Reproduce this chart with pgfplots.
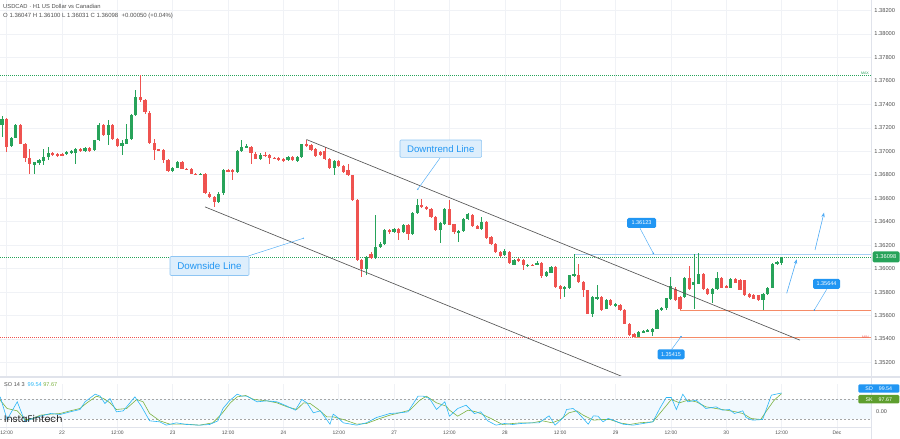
\documentclass[border=0pt]{standalone}
\usepackage{fontspec}
\setmainfont{Liberation Sans}
\newfontfamily\logofont{Poppins}
\usepackage{pgfplots}
\usepackage{pgfplotstable}
\pgfplotsset{compat=1.18}
\usetikzlibrary{arrows.meta}

\definecolor{upc}{HTML}{27A35A}
\definecolor{dnc}{HTML}{EF5350}
\definecolor{gridc}{HTML}{F0F2F6}
\definecolor{axc}{HTML}{E0E3EB}
\definecolor{lblue}{HTML}{2196F3}
\definecolor{boxfill}{HTML}{DDEEFC}
\definecolor{boxdraw}{HTML}{8EC5F3}
\definecolor{hline}{HTML}{A6D0F5}
\definecolor{orangec}{HTML}{F58B67}
\definecolor{sdc}{HTML}{29B6F6}
\definecolor{skc}{HTML}{7CB342}
\definecolor{skbox}{HTML}{5E9E2E}
\definecolor{txtc}{HTML}{4E4E4E}
\definecolor{chan}{HTML}{555555}

\pgfplotstableread{
x O H L C
-1 1.37222 1.37298 1.37122 1.37279
1 1.37043 1.37125 1.37035 1.37117
2 1.37117 1.37236 1.37110 1.37228
6 1.36884 1.36912 1.36804 1.36907
7 1.36901 1.36935 1.36884 1.36924
8 1.36918 1.37023 1.36881 1.36952
9 1.36952 1.37037 1.36924 1.36986
13 1.36975 1.37005 1.36969 1.36998
14 1.36989 1.37009 1.36980 1.37000
15 1.36986 1.37030 1.36895 1.37020
17 1.37003 1.37040 1.36995 1.37032
19 1.37009 1.37100 1.37000 1.37094
20 1.37094 1.37241 1.37088 1.37228
22 1.37137 1.37270 1.37051 1.37228
25 1.37043 1.37094 1.36969 1.37071
26 1.37066 1.37236 1.37060 1.37108
27 1.37108 1.37315 1.37100 1.37307
28 1.37307 1.37520 1.37300 1.37463
36 1.36832 1.36870 1.36825 1.36861
37 1.36861 1.36920 1.36855 1.36912
42 1.36802 1.36818 1.36796 1.36810
46 1.36568 1.36650 1.36560 1.36640
47 1.36640 1.36850 1.36630 1.36838
50 1.36824 1.37010 1.36815 1.37000
51 1.37000 1.37100 1.36995 1.37037
52 1.37032 1.37060 1.37025 1.37043
55 1.36938 1.36985 1.36930 1.36972
61 1.36924 1.36960 1.36915 1.36952
63 1.36918 1.36960 1.36910 1.36952
64 1.36952 1.37066 1.36945 1.37060
71 1.36861 1.36925 1.36796 1.36918
78 1.36001 1.36110 1.35950 1.36100
80 1.36095 1.36455 1.36085 1.36185
81 1.36185 1.36225 1.36175 1.36214
82 1.36214 1.36340 1.36205 1.36327
84 1.36313 1.36350 1.36305 1.36342
86 1.36313 1.36380 1.36305 1.36370
88 1.36299 1.36485 1.36290 1.36478
89 1.36478 1.36591 1.36470 1.36540
94 1.36327 1.36398 1.36222 1.36389
95 1.36384 1.36515 1.36376 1.36506
98 1.36308 1.36330 1.36227 1.36319
99 1.36319 1.36435 1.36310 1.36427
100 1.36418 1.36470 1.36410 1.36461
103 1.36336 1.36440 1.36330 1.36398
108 1.36114 1.36171 1.36108 1.36148
110 1.36035 1.36080 1.36029 1.36072
113 1.36023 1.36043 1.36014 1.36035
115 1.36035 1.36063 1.36029 1.36052
117 1.35938 1.35980 1.35930 1.35972
118 1.35967 1.36023 1.35960 1.36014
121 1.35830 1.35853 1.35759 1.35844
122 1.35836 1.35950 1.35830 1.35944
123 1.35938 1.36123 1.35930 1.35950
127 1.35617 1.35765 1.35588 1.35759
128 1.35745 1.35859 1.35738 1.35759
130 1.35660 1.35745 1.35652 1.35737
132 1.35680 1.35705 1.35672 1.35697
137 1.35418 1.35468 1.35415 1.35461
138 1.35461 1.35478 1.35455 1.35469
139 1.35469 1.35485 1.35462 1.35475
140 1.35461 1.35498 1.35424 1.35490
141 1.35490 1.35652 1.35483 1.35646
142 1.35646 1.35678 1.35640 1.35669
143 1.35660 1.35752 1.35652 1.35745
144 1.35745 1.35929 1.35738 1.35850
147 1.35759 1.35930 1.35752 1.35924
149 1.35859 1.36129 1.35660 1.35887
150 1.35871 1.36129 1.35865 1.35952
153 1.35782 1.35838 1.35708 1.35830
154 1.35830 1.35972 1.35822 1.35924
157 1.35839 1.35918 1.35832 1.35910
164 1.35731 1.35795 1.35646 1.35788
165 1.35782 1.35846 1.35775 1.35839
166 1.35839 1.36050 1.35832 1.36043
167 1.36043 1.36065 1.36035 1.36057
168 1.36047 1.36100 1.36031 1.36098
}\upT

\pgfplotstableread{
x O H L C
0 1.37279 1.37285 1.36994 1.37037
3 1.37228 1.37236 1.37060 1.37066
4 1.37066 1.37071 1.36909 1.36947
5 1.36947 1.37023 1.36804 1.36889
10 1.36986 1.36994 1.36964 1.36975
11 1.36975 1.36986 1.36952 1.36964
12 1.36975 1.36986 1.36960 1.36969
16 1.37020 1.37030 1.36998 1.37009
18 1.37032 1.37040 1.36995 1.37003
21 1.37228 1.37236 1.37130 1.37137
23 1.37228 1.37236 1.37100 1.37108
24 1.37108 1.37117 1.37035 1.37043
29 1.37463 1.37648 1.37420 1.37435
30 1.37435 1.37445 1.37320 1.37330
31 1.37330 1.37340 1.37060 1.37071
32 1.37071 1.37108 1.36924 1.37015
33 1.37015 1.37023 1.37000 1.37009
34 1.37015 1.37023 1.36900 1.36924
35 1.36924 1.36935 1.36825 1.36832
38 1.36912 1.36920 1.36845 1.36853
39 1.36853 1.36861 1.36838 1.36844
40 1.36853 1.36861 1.36804 1.36810
41 1.36810 1.36818 1.36798 1.36804
43 1.36810 1.36818 1.36635 1.36640
44 1.36640 1.36650 1.36600 1.36611
45 1.36611 1.36620 1.36526 1.36568
48 1.36838 1.36850 1.36820 1.36830
49 1.36838 1.36850 1.36753 1.36824
53 1.37037 1.37043 1.36895 1.36981
54 1.36981 1.36990 1.36930 1.36938
56 1.36970 1.36990 1.36955 1.36962
57 1.36966 1.36975 1.36895 1.36947
58 1.36945 1.36952 1.36935 1.36943
59 1.36943 1.36952 1.36920 1.36930
60 1.36938 1.36945 1.36910 1.36918
62 1.36952 1.36960 1.36918 1.36924
65 1.37066 1.37100 1.37035 1.37043
66 1.37051 1.37060 1.37005 1.37015
67 1.37023 1.37030 1.36950 1.36958
68 1.36994 1.37003 1.36958 1.36966
69 1.37003 1.37037 1.36930 1.36938
70 1.36938 1.36945 1.36850 1.36858
72 1.36918 1.36925 1.36865 1.36872
73 1.36872 1.36880 1.36815 1.36824
74 1.36838 1.36895 1.36790 1.36796
75 1.36796 1.36800 1.36575 1.36583
76 1.36583 1.36590 1.36065 1.36072
77 1.36072 1.36080 1.35930 1.36001
79 1.36129 1.36140 1.36085 1.36095
83 1.36327 1.36340 1.36300 1.36313
85 1.36342 1.36350 1.36242 1.36308
87 1.36370 1.36380 1.36242 1.36299
90 1.36540 1.36597 1.36518 1.36526
91 1.36526 1.36535 1.36498 1.36506
92 1.36512 1.36520 1.36432 1.36440
93 1.36440 1.36448 1.36319 1.36327
96 1.36506 1.36583 1.36368 1.36376
97 1.36376 1.36384 1.36299 1.36308
101 1.36461 1.36470 1.36355 1.36361
102 1.36361 1.36370 1.36335 1.36342
104 1.36398 1.36405 1.36255 1.36262
105 1.36270 1.36278 1.36205 1.36214
106 1.36214 1.36222 1.36135 1.36142
107 1.36142 1.36150 1.36100 1.36108
109 1.36142 1.36150 1.36043 1.36050
111 1.36080 1.36090 1.36055 1.36063
112 1.36072 1.36080 1.35986 1.36029
114 1.36035 1.36043 1.36020 1.36029
116 1.36052 1.36060 1.35916 1.35938
119 1.36014 1.36023 1.35836 1.35844
120 1.35853 1.35859 1.35745 1.35830
124 1.35950 1.36043 1.35880 1.35887
125 1.35887 1.35895 1.35759 1.35816
126 1.35816 1.35822 1.35610 1.35617
129 1.35754 1.35765 1.35640 1.35646
131 1.35737 1.35745 1.35680 1.35688
133 1.35688 1.35697 1.35640 1.35646
134 1.35646 1.35652 1.35525 1.35532
135 1.35532 1.35540 1.35425 1.35433
136 1.35447 1.35455 1.35415 1.35418
145 1.35830 1.35840 1.35725 1.35731
146 1.35759 1.35765 1.35644 1.35660
148 1.35924 1.36020 1.35822 1.35830
151 1.35952 1.35960 1.35822 1.35830
152 1.35830 1.35838 1.35775 1.35782
155 1.35924 1.35932 1.35832 1.35839
156 1.35850 1.35858 1.35832 1.35839
158 1.35910 1.35918 1.35875 1.35880
159 1.35905 1.35912 1.35815 1.35820
160 1.35901 1.35908 1.35765 1.35773
161 1.35782 1.35790 1.35750 1.35759
162 1.35773 1.35780 1.35738 1.35745
163 1.35773 1.35780 1.35725 1.35731
}\dnT

\pgfplotsset{
  wick/.style={only marks, mark=*, mark size=0pt, mark options={draw=none, fill=none}, forget plot,
    error bars/.cd, y dir=both, y explicit, error mark=none,
    error bar style={draw=#1, line width=0.75pt}},
  body/.style={only marks, mark=*, mark size=0pt, mark options={draw=none, fill=none}, forget plot,
    error bars/.cd, y dir=both, y explicit, error mark=none,
    error bar style={draw=#1, line width=3.2pt}},
}

\begin{document}
\begin{tikzpicture}[x=1pt,y=1pt]
\useasboundingbox (0,0) rectangle (900,439);

% ---------- price panel ----------
\begin{axis}[
  at={(0,53.5)}, anchor=south west, scale only axis,
  width=871pt, height=376pt,
  xmin=-1.44, xmax=187.4, ymin=1.35083, ymax=1.38287,
  axis line style={draw=none},
  major tick length=0pt,
  xtick={0,12,...,180}, xticklabels={},
  ytick={1.352,1.354,1.356,1.358,1.360,1.362,1.364,1.366,1.368,1.370,1.372,1.374,1.376,1.378,1.380,1.382},
  yticklabel pos=right,
  grid=major, major grid style={gridc, line width=0.5pt},
  yticklabel style={anchor=west, inner sep=0pt, xshift=3.2pt, text=txtc,
    font=\fontsize{5.7}{6}\selectfont,
    /pgf/number format/.cd, fixed, fixed zerofill, precision=5, 1000 sep={}, assume math mode=true},
  clip=true,
]
% reference horizontal lines
\addplot[upc, line width=0.5pt, dash pattern=on 0.8pt off 1.2pt] coordinates {(-1.44,1.37648) (187.4,1.37648)};
\addplot[dnc, line width=0.5pt, dash pattern=on 0.8pt off 1.2pt] coordinates {(-1.44,1.35413) (187.4,1.35413)};
\addplot[upc, line width=0.6pt, dash pattern=on 0.8pt off 1.2pt] coordinates {(-1.44,1.36098) (187.4,1.36098)};
\addplot[hline, line width=1.3pt] coordinates {(123,1.36123) (187.4,1.36123)};
\addplot[orangec, line width=0.7pt] coordinates {(146,1.35644) (187.4,1.35644)};
\addplot[orangec, line width=0.7pt] coordinates {(136,1.35415) (187.4,1.35415)};
% candles
\addplot[wick=upc] table[x=x, y expr={(\thisrow{H}+\thisrow{L})/2}, y error expr={(\thisrow{H}-\thisrow{L})/2}] {\upT};
\addplot[wick=dnc] table[x=x, y expr={(\thisrow{H}+\thisrow{L})/2}, y error expr={(\thisrow{H}-\thisrow{L})/2}] {\dnT};
\addplot[body=upc] table[x=x, y expr={(\thisrow{O}+\thisrow{C})/2}, y error expr={max(abs(\thisrow{C}-\thisrow{O})/2,0.00003)}] {\upT};
\addplot[body=dnc] table[x=x, y expr={(\thisrow{O}+\thisrow{C})/2}, y error expr={max(abs(\thisrow{C}-\thisrow{O})/2,0.00003)}] {\dnT};
% channel lines
\addplot[chan, line width=0.65pt] coordinates {(65.0,1.37100) (172.0,1.35390)};
\addplot[chan, line width=0.65pt] coordinates {(43.0,1.36526) (133.29,1.35083)};
\end{axis}

% ---------- stochastic panel ----------
\begin{axis}[
  at={(0,20.5)}, anchor=south west, scale only axis,
  width=871pt, height=48pt,
  xmin=-1.44, xmax=187.4, ymin=-18, ymax=126,
  axis line style={draw=none},
  major tick length=0pt,
  xtick={0,12,...,180}, xticklabels={},
  ytick=\empty,
  xmajorgrids, major grid style={gridc, line width=0.5pt},
  clip=true,
]
\fill[lblue!6] (axis cs:-1.44,20) rectangle (axis cs:187.4,80);
\addplot[gray!70, line width=0.5pt, dash pattern=on 2pt off 2pt] coordinates {(-1.44,80) (187.4,80)};
\addplot[gray!70, line width=0.5pt, dash pattern=on 2pt off 2pt] coordinates {(-1.44,20) (187.4,20)};
\addplot[skc, line width=0.6pt] coordinates {
(-1.4,78) (0.1,53) (2.3,46) (4.0,20) (5.1,20) (7.3,33) (9.5,36) (11.6,38) (13.8,46) (15.9,53)
(17.4,70) (19.5,90) (21.0,83) (22.4,70) (23.8,50) (26.0,53) (28.2,80) (29.6,73) (31.0,38) (33.2,16)
(35.4,6) (39.0,6) (41.8,3) (44.7,10) (46.7,38) (48.5,70) (50.0,88) (51.8,92) (53.6,80) (56.4,76)
(58.6,70) (60.8,58) (62.9,50) (64.4,70) (65.8,68) (67.6,50) (69.4,28) (70.8,28) (73.0,20) (75.9,6)
(78.0,8) (80.9,23) (83.1,33) (85.2,40) (87.4,48) (89.6,78) (91.0,90) (93.2,70) (95.3,60) (96.0,48)
(97.8,30) (100.0,48) (101.8,43) (103.2,35) (105.0,23) (107.5,5) (109.7,8) (111.5,10) (114.0,10) (116.2,16)
(118.3,10) (120.1,20) (121.9,40) (123.6,46) (125.0,33) (127.2,18) (129.3,20) (130.8,20) (132.9,10) (135.1,5)
(137.2,10) (140.1,13) (141.9,43) (144.1,80) (145.9,70) (147.7,78) (149.5,73) (151.6,58) (153.8,53) (156.0,48)
(158.1,43) (159.6,38) (161.4,23) (163.5,20) (164.6,43) (166.4,78) (168.0,97.67)};
\addplot[sdc, line width=0.6pt] coordinates {
(-1.4,88) (0.1,20) (2.3,73) (4.0,13) (5.1,20) (7.3,30) (9.5,38) (11.6,35) (13.8,43) (15.9,50)
(17.0,73) (19.2,96) (20.3,90) (21.3,68) (22.4,83) (23.8,43) (25.3,46) (27.8,88) (29.2,60) (31.0,16)
(33.2,13) (34.6,3) (36.8,10) (39.0,5) (41.8,3) (44.0,5) (45.8,16) (46.9,53) (48.3,76) (50.0,96)
(51.0,90) (52.1,90) (54.3,73) (56.4,76) (58.6,73) (60.8,60) (62.6,48) (64.0,80) (65.1,70) (66.5,40)
(68.0,46) (70.1,6) (70.8,36) (71.6,28) (73.0,10) (75.9,3) (78.0,10) (80.2,26) (83.1,38) (85.2,40)
(87.0,43) (89.2,90) (90.3,90) (91.7,83) (93.2,50) (95.0,73) (96.0,30) (97.8,53) (99.6,63) (101.4,38)
(102.8,43) (104.3,16) (106.1,3) (107.9,8) (109.7,5) (111.5,8) (114.0,10) (115.4,10) (117.6,31) (118.9,3)
(120.7,26) (121.4,50) (122.8,53) (123.9,40) (126.1,6) (127.2,31) (128.2,30) (129.3,13) (130.4,23) (131.5,18)
(133.6,6) (135.8,3) (138.0,8) (140.1,13) (141.6,53) (143.0,86) (144.1,86) (145.2,50) (146.6,96) (147.7,73)
(149.5,78) (151.6,53) (153.8,58) (155.2,48) (156.7,50) (157.8,38) (159.6,46) (160.3,26) (161.7,18) (163.9,20)
(165.8,93) (168.0,99.54)};
\end{axis}

% ---------- frame pieces ----------
\draw[axc, line width=0.6pt] (871.3,0) -- (871.3,439);
\draw[axc, line width=2.4pt] (0,62) -- (900,62);
\draw[axc, line width=0.5pt] (0,12) -- (871.3,12);

% ---------- time axis labels ----------
\foreach \px/\lab in {6.64/12:00, 62/22, 117.36/12:00, 172.71/23, 228.07/12:00, 283.42/24,
  338.78/12:00, 394.14/27, 449.49/12:00, 504.85/28, 560.2/12:00, 615.56/29, 670.92/12:00,
  726.27/30, 781.63/12:00, 836.98/Dec}
  \node[inner sep=0pt, text=txtc, font=\fontsize{5}{6}\selectfont] at (\px,6) {\lab};

% ---------- header ----------
\node[anchor=west, inner sep=0pt, text=txtc, font=\fontsize{5.8}{6}\selectfont] at (3,432.4) {USDCAD · H1 US Dollar vs Canadian};
\node[anchor=west, inner sep=0pt, text=txtc, font=\fontsize{6}{6}\selectfont] at (3,423.3) {O 1.36047 H 1.36100 L 1.36031 C 1.36098 \ +0.00050 (+0.04\%)};

% ---------- annotations ----------
\node[draw=boxdraw, fill=boxfill, text=lblue, line width=0.6pt, rounded corners=1pt,
  minimum width=81.7pt, minimum height=17.3pt, inner sep=0pt,
  font=\fontsize{9.6}{10}\selectfont] at (440.8,290.3) {Downtrend Line};
\draw[lblue!75, line width=0.5pt] (440,281) -- (417.7,249.7);
\fill[lblue!75] (417.7,249.7) circle (0.8pt);

\node[draw=boxdraw, fill=boxfill, text=lblue, line width=0.6pt, rounded corners=1pt,
  minimum width=79pt, minimum height=19pt, inner sep=0pt,
  font=\fontsize{9.8}{10}\selectfont] at (209.5,173) {Downside Line};
\draw[lblue!75, line width=0.5pt] (248.3,183) -- (303.3,200.7);
\fill[lblue!75] (303.3,200.7) circle (0.8pt);

\draw[lblue!75, line width=0.5pt] (640,210.7) -- (653.3,185.7);
\fill[lblue] (653.3,185.7) circle (0.8pt);
\node[fill=lblue, text=white, rounded corners=1.5pt, minimum width=29pt, minimum height=10pt,
  inner sep=0pt, font=\fontsize{5.5}{6}\selectfont] at (641.5,216) {1.36123};

\draw[lblue!75, line width=0.5pt] (826.7,149.7) -- (814.3,129);
\fill[lblue] (814.3,129) circle (0.8pt);
\node[fill=lblue, text=white, rounded corners=1.5pt, minimum width=27pt, minimum height=10pt,
  inner sep=0pt, font=\fontsize{5.5}{6}\selectfont] at (826.5,155.2) {1.35644};

\draw[lblue!75, line width=0.5pt] (671.7,89.7) -- (681,102.3);
\fill[lblue] (681,102.3) circle (0.8pt);
\node[fill=lblue, text=white, rounded corners=1.5pt, minimum width=27pt, minimum height=10pt,
  inner sep=0pt, font=\fontsize{5.5}{6}\selectfont] at (671,84.7) {1.35415};

\draw[lblue!80, line width=0.6pt, -{Stealth[length=4.5pt,width=3.5pt]}] (786.7,145.7) -- (796.7,179.7);
\draw[lblue!80, line width=0.6pt, -{Stealth[length=4.5pt,width=3.5pt]}] (815,189) -- (824,226.3);

\node[anchor=east, inner sep=0pt, text=upc, font=\fontsize{3.6}{4}\selectfont] at (869,366.2) {MAX};
\node[anchor=east, inner sep=0pt, text=dnc, font=\fontsize{3.6}{4}\selectfont] at (869,102.2) {MIN};

% current price label
\node[fill=upc, text=white, rounded corners=1.5pt, minimum width=27pt, minimum height=11pt,
  inner sep=0pt, font=\fontsize{5.7}{6}\selectfont] at (886,182) {1.36098};

% ---------- stochastic labels ----------
\node[anchor=west, inner sep=0pt, font=\fontsize{5.6}{6}\selectfont] at (4,54)
  {\textcolor{txtc}{SO 14 3}\hspace{3pt}\textcolor{sdc}{99.54}\hspace{1.5pt}\textcolor{skc}{97.67}};
\node[anchor=west, inner sep=0pt, text=txtc, font=\fontsize{5.5}{6}\selectfont] at (874.5,40.5) {50.00};
\node[anchor=west, inner sep=0pt, text=txtc, font=\fontsize{5.5}{6}\selectfont] at (876,27.3) {0.00};
\node[fill=lblue, text=white, rounded corners=1.2pt, minimum width=41pt, minimum height=8.4pt,
  inner sep=0pt, font=\fontsize{5.3}{6}\selectfont] at (878.8,50.5) {SD\hspace{6pt}99.54};
\node[fill=skbox, text=white, rounded corners=1.2pt, minimum width=41pt, minimum height=8.4pt,
  inner sep=0pt, font=\fontsize{5.3}{6}\selectfont] at (878.8,39.8) {SK\hspace{6pt}97.67};

% logo
\node[anchor=west, inner sep=0pt, text=black!88, font=\logofont\fontsize{9.6}{10}\selectfont] at (4,19.8) {InstaFintech};
\end{tikzpicture}
\end{document}
